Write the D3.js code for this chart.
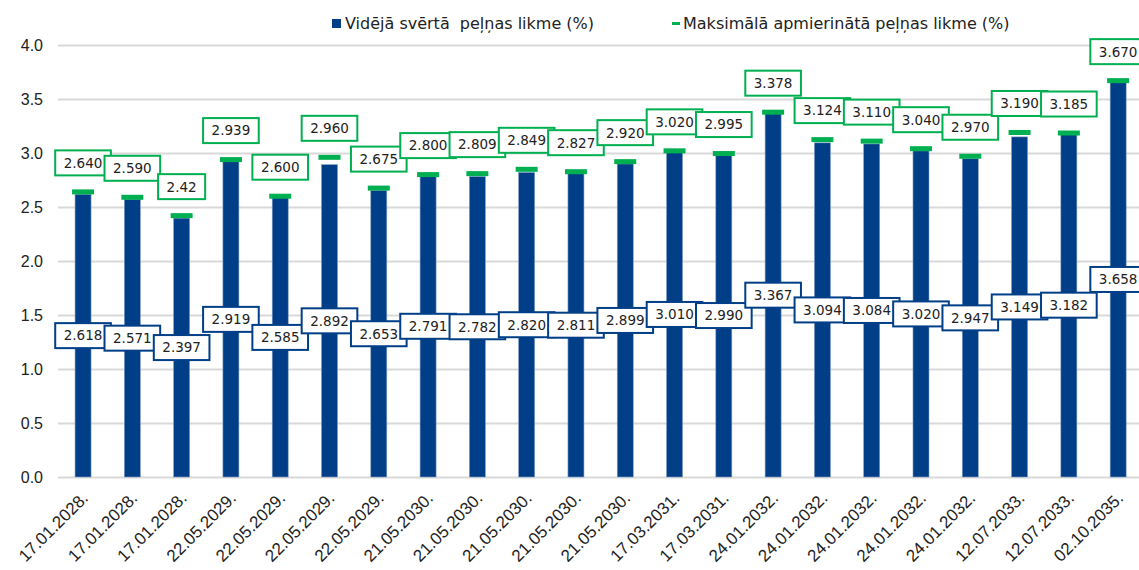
<!DOCTYPE html>
<html>
<head>
<meta charset="utf-8">
<script src="https://cdn.jsdelivr.net/npm/d3@7"></script>
<style>
  body { margin: 0; background: #fff; }
  svg { display: block; font-family: 'DejaVu Sans', Verdana, sans-serif; }
  .tick text { fill: #222; }
</style>
</head>
<body>
<div id="chart"></div>
<script>
// Izsoles datumi (kategorijas)
const dates = [
  '17.01.2028.', '17.01.2028.', '17.01.2028.', '22.05.2029.', '22.05.2029.', '22.05.2029.',
  '22.05.2029.', '21.05.2030.', '21.05.2030.', '21.05.2030.', '21.05.2030.', '21.05.2030.',
  '17.03.2031.', '17.03.2031.', '24.01.2032.', '24.01.2032.', '24.01.2032.', '24.01.2032.',
  '24.01.2032.', '12.07.2033.', '12.07.2033.', '02.10.2035.',
];

// Vidējā svērtā peļņas likme (%)
const avgRates = [
  2.618, 2.571, 2.397, 2.919, 2.585, 2.892, 2.653, 2.791, 2.782, 2.820, 2.811,
  2.899, 3.010, 2.990, 3.367, 3.094, 3.084, 3.020, 2.947, 3.149, 3.182, 3.658,
];

// Maksimālā apmierinātā peļņas likme (%) - kā attēlā rakstīts
const maxRates = [
  '2.640', '2.590', '2.42', '2.939', '2.600', '2.960', '2.675', '2.800', '2.809', '2.849', '2.827',
  '2.920', '3.020', '2.995', '3.378', '3.124', '3.110', '3.040', '2.970', '3.190', '3.185', '3.670',
];

const yTicks = [0, 0.5, 1, 1.5, 2, 2.5, 3, 3.5, 4];

const legendAvg = 'Vidējā svērtā  peļņas likme (%)';
const legendMax = 'Maksimālā apmierinātā peļņas likme (%)';

const width = 1139;
const height = 570;
const blue = '#003f87';
const green = '#00b050';
const grid = '#d9d9d9';

const svg = d3.select('#chart').append('svg')
  .attr('width', width)
  .attr('height', height);

const x = d3.scaleBand()
  .domain(dates.map((d, i) => i))
  .range([58.4, 1142.8]);

const y = d3.scaleLinear()
  .domain([0, 4])
  .range([477, 45]);

// Y ass ar režģa līnijām
const yAxis = svg.append('g')
  .attr('transform', 'translate(58,0)')
  .call(d3.axisLeft(y)
    .tickValues(yTicks)
    .tickSize(-(width - 58))
    .tickPadding(15)
    .tickFormat(d3.format('.1f')));
yAxis.select('.domain').remove();
yAxis.selectAll('.tick line').attr('stroke', grid).attr('stroke-width', 2);
yAxis.selectAll('.tick text').attr('font-size', 16);

// X ass
const xAxis = svg.append('g')
  .attr('transform', `translate(0,${y(0)})`)
  .call(d3.axisBottom(x).tickSize(0).tickFormat((i) => dates[i]));
xAxis.select('.domain').remove();
xAxis.selectAll('.tick text')
  .attr('font-size', 17)
  .attr('text-anchor', 'end')
  .attr('dy', 0)
  .attr('transform', 'translate(4,20) rotate(-45)');

const barW = 16;
const dashW = 22;
const bx = (i) => x(i) + x.bandwidth() / 2;

// Stabiņi
svg.append('g')
  .selectAll('rect')
  .data(avgRates)
  .join('rect')
  .attr('x', (d, i) => bx(i) - barW / 2)
  .attr('y', (d) => y(d))
  .attr('width', barW)
  .attr('height', (d) => y(0) - y(d))
  .attr('fill', blue)
  .attr('stroke', '#7f9cc6')
  .attr('stroke-width', 0.6);

// Maksimālās likmes atzīmes
svg.append('g')
  .selectAll('rect')
  .data(maxRates)
  .join('rect')
  .attr('x', (d, i) => bx(i) - dashW / 2)
  .attr('y', (d) => y(+d) - 2.5)
  .attr('width', dashW)
  .attr('height', 5)
  .attr('fill', green);

function addLabel(g, text, cx, cy, color) {
  const lg = g.append('g');
  const rect = lg.append('rect');
  const t = lg.append('text')
    .text(text)
    .attr('x', cx)
    .attr('y', cy)
    .attr('dy', '0.36em')
    .attr('text-anchor', 'middle')
    .attr('font-size', 13.5)
    .attr('fill', '#222');
  const w = t.node().getComputedTextLength() + 17;
  rect.attr('x', cx - w / 2)
    .attr('y', cy - 12.5)
    .attr('width', w)
    .attr('height', 25)
    .attr('fill', '#fff')
    .attr('stroke', color)
    .attr('stroke-width', 2);
}

// Vidējās likmes etiķetes (stabiņa vidū)
const avgLabels = svg.append('g');
avgRates.forEach((v, i) => {
  addLabel(avgLabels, d3.format('.3f')(v), bx(i), y(v / 2), blue);
});

// Maksimālās likmes etiķetes (virs atzīmes)
const maxLabels = svg.append('g');
maxRates.forEach((v, i) => {
  addLabel(maxLabels, v, bx(i), y(+v) - 29, green);
});

// Leģenda
const legend = svg.append('g').attr('font-size', 16).attr('fill', '#222');
legend.append('rect')
  .attr('x', 332).attr('y', 19).attr('width', 9).attr('height', 9)
  .attr('fill', blue);
legend.append('text')
  .attr('x', 345).attr('y', 29)
  .style('white-space', 'pre')
  .text(legendAvg);
legend.append('rect')
  .attr('x', 672).attr('y', 22).attr('width', 8).attr('height', 3)
  .attr('fill', green);
legend.append('text')
  .attr('x', 683).attr('y', 29)
  .text(legendMax);
</script>
</body>
</html>
